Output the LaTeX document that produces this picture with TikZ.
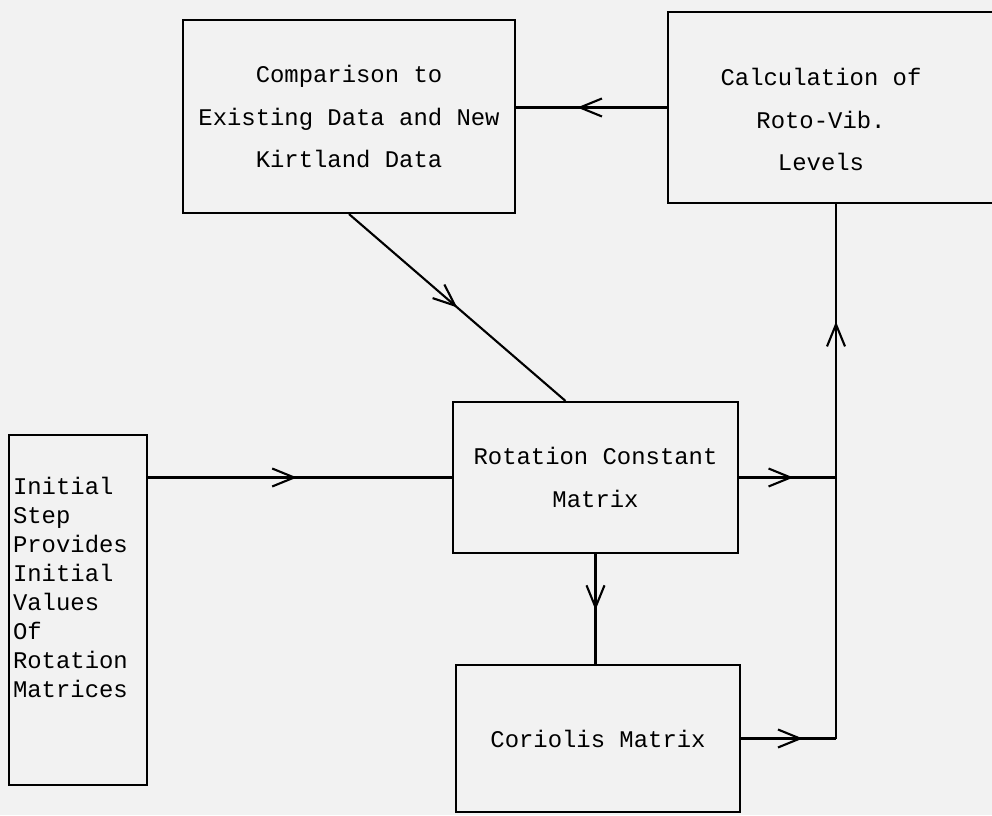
\documentclass[tikz,border=0pt]{standalone}
\usepackage{fontspec}
\setmonofont{Liberation Mono}
\usetikzlibrary{arrows.meta,positioning,calc,decorations.markings}

\begin{document}
\begin{tikzpicture}[
  box/.style={draw, line width=1.5pt, align=center, font=\ttfamily\fontsize{17}{30.5}\selectfont},
  flow/.style={line width=1.5pt, postaction={decorate},
    decoration={markings, mark=at position #1 with {\arrow{Straight Barb[length=0.55cm,width=0.45cm]}}}}
]
  %% Page and background
  \useasboundingbox (0,0) rectangle (24.8,20.375);
  \fill[black!5] (0,0) rectangle (24.8,20.375);
  \clip (0,0) rectangle (24.8,20.375);

  %% Boxes
  \node[box, minimum width=8.3cm, minimum height=4.825cm] (comp) at (8.725,17.4625) {Comparison to\\Existing Data and New\\Kirtland Data};
  \node[box, minimum width=8.3cm, minimum height=4.775cm] (levels) at (20.85,17.6875) {};
  \node[box, draw=none] (levelstxt) at (20.525,17.3875) {Calculation of\\Roto-Vib.\\Levels};
  \node[box, minimum width=7.125cm, minimum height=3.775cm] (rot) at (14.8875,8.4375) {Rotation Constant\\Matrix};
  \node[box, minimum width=7.1cm, minimum height=3.675cm] (corio) at (14.95,1.9125) {Coriolis Matrix};
  \node[box, minimum width=3.45cm, minimum height=8.75cm] (init) at (1.95,5.125) {};
  \node[box, draw=none, align=left, anchor=west, inner sep=0pt, font=\ttfamily\fontsize{17}{20.6}\selectfont] (inittxt) at (0.3,5.6875)
    {Initial\\Step\\Provides\\Initial\\Values\\Of\\Rotation\\Matrices};

  %% Junctions on the return line
  \coordinate (jrot) at (20.9,0 |- rot.east);
  \coordinate (jcor) at (20.9,0 |- corio.east);

  %% Arrows
  \draw[flow=0.595] (levels.west) -- (levels.west -| comp.east);
  \draw[flow=0.5]   (comp.south) -- ([xshift=-0.75cm]rot.north);
  \draw[flow=0.49]  (rot.west -| init.east) -- (rot.west);
  \draw[flow=0.51]  (rot.south) -- (rot.south |- corio.north);
  \draw[flow=0.56]  (rot.east) -- (jrot);
  \draw[flow=0.65]  (corio.east) -- (jcor);
  \draw[flow=0.78]  (jcor) -- (jcor |- levels.south);
\end{tikzpicture}
\end{document}
